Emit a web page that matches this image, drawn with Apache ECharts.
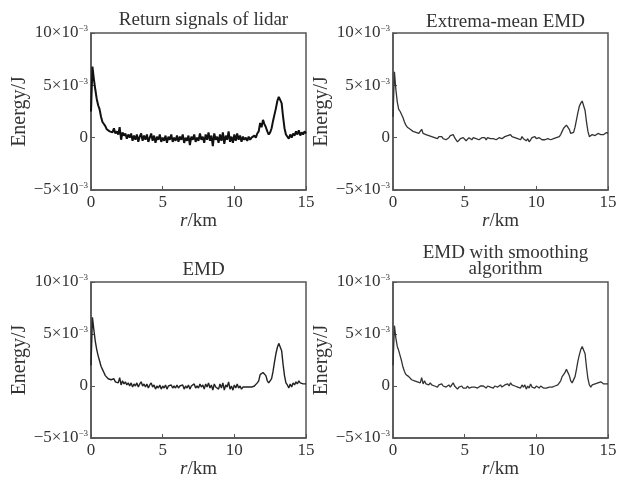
<!DOCTYPE html>
<html>
<head>
<meta charset="utf-8">
<script src="https://cdn.jsdelivr.net/npm/echarts@6/dist/echarts.min.js"></script>
<style>
  html, body { margin: 0; padding: 0; background: #fff; }
  #lidar_emd { width: 623px; height: 481px; }
</style>
</head>
<body>
<div id="lidar_emd"></div>
<script>
// lidar return signal and three EMD denoising results, energy in 10^-3 J, sampled every 0.1 km

var lidarSignal = [
  2.5, 6.8, 5.6, 4.6, 3.7, 3.1, 2.7, 2.0, 1.5, 1.3,
  1.1, 0.8, 0.9, 0.6, 0.7, 0.5, 0.9, 0.4, 0.6, 0.3,
  1.0, -0.2, 0.5, 0.2, 0.4, -0.1, 0.3, 0.0, 0.4, -0.3,
  0.2, -0.2, 0.3, -0.4, 0.1, 0.4, -0.3, 0.2, -0.2, 0.3,
  -0.4, 0.0, 0.4, -0.3, 0.2, -0.5, 0.1, -0.2, 0.3, -0.4,
  0.0, -0.3, 0.2, -0.5, 0.1, -0.2, 0.3, -0.4, 0.0, -0.3,
  0.2, -0.4, 0.1, -0.2, 0.3, -0.5, 0.0, -0.3, 0.2, -0.7,
  0.1, -0.2, 0.3, -0.4, 0.0, -0.3, 0.4, -0.2, 0.1, -0.5,
  0.3, -0.2, 0.5, -0.3, 0.2, -0.8, 0.4, -0.2, 0.1, -0.5,
  0.3, -0.3, 0.5, -0.6, 0.2, -0.2, 0.6, -0.4, 0.1, -0.5,
  0.3, -0.3, 0.4, -0.2, 0.2, -0.4, 0.1, -0.2, 0.0, -0.3,
  0.1, -0.2, 0.0, -0.1, 0.2, 0.0, 0.4, 0.6, 1.4, 1.0,
  1.7, 1.3, 1.0, 0.6, 0.3, 0.5, 0.9, 1.6, 2.2, 2.8,
  3.5, 3.9, 4.0, 3.3, 2.0, 0.9, 0.3, 0.4, -0.1, 0.3,
  0.0, 0.4, 0.2, 0.6, 0.3, 0.7, 0.2, 0.5, 0.3, 0.6,
  0.4
];

var extremaMeanEmd = [
  2.0, 6.3, 4.6, 3.4, 2.7, 2.5, 2.4, 1.9, 1.5, 1.2,
  1.0, 0.9, 0.8, 0.7, 0.6, 0.6, 0.5, 0.5, 0.4, 0.6,
  0.8, 0.4, 0.5, 0.3, 0.4, 0.2, 0.3, 0.1, 0.2, 0.0,
  0.1, -0.1, 0.1, 0.0, 0.1, -0.1, 0.0, -0.2, -0.1, 0.0,
  0.2, 0.1, 0.3, 0.0, -0.2, -0.4, -0.3, -0.1, -0.2, 0.0,
  -0.1, -0.3, -0.2, 0.0, -0.1, -0.2, 0.0, 0.1, -0.1, 0.0,
  -0.2, -0.1, 0.0, -0.1, 0.0, -0.2, 0.0, 0.1, -0.1, 0.0,
  -0.1, 0.0, -0.2, -0.1, 0.0, 0.1, -0.1, 0.0, 0.1, 0.0,
  0.2, 0.1, 0.3, 0.1, 0.2, 0.0, 0.1, -0.1, 0.0, -0.2,
  0.1, -0.1, 0.0, -0.3, -0.1, -0.4, -0.2, 0.0, -0.1, 0.1,
  -0.1, -0.2, 0.0, -0.1, -0.2, -0.1, -0.2, -0.1, -0.1, -0.2,
  -0.2, -0.1, -0.1, -0.1, 0.0, 0.0, 0.1, 0.3, 0.6, 0.9,
  1.0, 1.2, 1.2, 0.8, 0.4, 0.3, 0.5, 1.0, 1.7, 2.4,
  3.0, 3.3, 3.5, 3.4, 2.6, 1.5, 0.6, 0.1, 0.2, 0.3,
  0.2, 0.2, 0.3, 0.4, 0.3, 0.3, 0.4, 0.3, 0.4, 0.5,
  0.4
];

var classicEmd = [
  2.0, 6.6, 5.4, 4.3, 3.5, 2.9, 2.4, 1.9, 1.6, 1.3,
  1.0, 0.9, 0.7, 0.8, 0.6, 0.5, 0.7, 0.4, 0.5, 0.3,
  0.8, 0.1, 0.5, 0.2, 0.4, 0.1, 0.3, 0.0, 0.3, -0.1,
  0.2, 0.0, 0.3, -0.1, 0.2, 0.4, 0.0, 0.2, -0.1, 0.2,
  -0.2, 0.1, 0.3, -0.1, 0.1, -0.3, 0.0, -0.2, 0.1, -0.3,
  0.0, -0.2, 0.1, -0.3, 0.0, -0.1, 0.1, -0.2, 0.0, -0.2,
  0.1, -0.2, 0.0, -0.1, 0.1, -0.3, 0.0, -0.2, 0.1, -0.3,
  0.0, -0.1, 0.2, -0.2, 0.0, -0.2, 0.2, -0.1, 0.1, -0.3,
  0.2, -0.1, 0.3, -0.2, 0.1, -0.4, 0.2, -0.1, 0.0, -0.3,
  0.2, -0.2, 0.3, -0.4, 0.1, -0.1, 0.4, -0.3, 0.0, -0.4,
  0.1, -0.2, 0.2, -0.2, 0.0, -0.3, -0.1, -0.2, -0.1, -0.2,
  -0.1, -0.2, -0.1, -0.1, 0.0, 0.0, 0.3, 0.5, 1.1, 1.0,
  1.3, 1.2, 1.0, 0.5, 0.3, 0.4, 0.7, 1.4, 2.3, 3.1,
  3.7, 4.1, 4.2, 3.4, 2.1, 1.0, 0.3, 0.1, -0.2, 0.2,
  -0.1, 0.3, 0.1, 0.4, 0.2, 0.5, 0.3, 0.4, 0.2, 0.3,
  0.2
];

var smoothedEmd = [
  2.0, 5.8, 4.6, 3.8, 3.4, 2.9, 2.4, 1.8, 1.4, 1.1,
  1.0, 0.9, 0.8, 0.6, 0.5, 0.5, 0.4, 0.4, 0.5, 0.3,
  0.8, 0.2, 0.5, 0.2, 0.3, 0.1, 0.3, 0.1, 0.2, 0.0,
  0.1, -0.1, 0.1, 0.0, 0.2, 0.0, 0.1, -0.1, 0.0, 0.1,
  -0.1, 0.1, 0.3, 0.0, -0.1, -0.3, -0.1, -0.2, 0.0, -0.2,
  -0.1, -0.2, 0.0, -0.2, -0.1, -0.1, 0.0, -0.1, 0.0, -0.2,
  -0.1, 0.0, -0.1, 0.0, -0.1, -0.2, 0.0, 0.1, -0.1, 0.0,
  -0.2, 0.0, 0.1, -0.1, 0.0, 0.1, -0.1, 0.0, 0.1, 0.0,
  0.2, 0.0, 0.3, 0.1, 0.2, 0.0, 0.1, -0.1, 0.0, -0.2,
  0.1, -0.1, 0.1, -0.3, 0.0, -0.2, 0.2, -0.1, 0.0, -0.2,
  0.0, -0.1, -0.2, 0.0, -0.1, -0.2, -0.1, -0.2, -0.1, -0.1,
  -0.2, -0.1, -0.1, 0.0, 0.0, 0.1, 0.2, 0.5, 0.9, 1.1,
  1.3, 1.6, 1.5, 1.0, 0.5, 0.3, 0.4, 0.9, 1.6, 2.4,
  3.0, 3.5, 3.8, 3.9, 3.1, 1.8, 0.7, 0.1, -0.1, 0.1,
  0.0, 0.2, 0.1, 0.3, 0.2, 0.4, 0.3, 0.2, 0.3, 0.2,
  0.2
];

var panelTitles = ['Return signals of lidar', 'Extrema-mean EMD', 'EMD', 'EMD with smoothing\nalgorithm'];
var yTicks = [-5, 0, 5, 10];
var xTicks = [0, 5, 10, 15];

var distanceKm = [];
for (var i = 0; i < lidarSignal.length; i++) {
  distanceKm.push(i / 10);
}

function toPairs(values) {
  return values.map(function (v, i) { return [distanceKm[i], v]; });
}

var dom = document.getElementById('lidar_emd');
var myChart = echarts.init(dom);

var serif = 'Liberation Serif';
var ink = '#333';
var frame = '#555';

var grids = [
  { left: 91, top: 33, width: 215, height: 157 },
  { left: 393, top: 33, width: 215, height: 157 },
  { left: 91, top: 282, width: 215, height: 156 },
  { left: 393, top: 282, width: 215, height: 156 }
];
var titleTops = [7, 9, 257, 240];
var panelData = [lidarSignal, extremaMeanEmd, classicEmd, smoothedEmd];
var lineColors = ['#111', '#333', '#222', '#333'];
var lineWidths = [2, 1.3, 1.4, 1.3];

var option = {
  backgroundColor: '#fff',
  animation: false,
  title: [],
  grid: [],
  xAxis: [],
  yAxis: [],
  series: []
};

grids.forEach(function (g, k) {
  option.grid.push({
    left: g.left, top: g.top, width: g.width, height: g.height,
    show: true, borderColor: frame, borderWidth: 1.5, backgroundColor: 'transparent'
  });
  option.title.push({
    text: panelTitles[k],
    left: g.left + g.width / 2,
    top: titleTops[k],
    textAlign: 'center',
    textStyle: { fontFamily: serif, fontSize: 19, fontWeight: 'normal', color: ink, lineHeight: 16 }
  });
  option.xAxis.push({
    type: 'value',
    gridIndex: k,
    min: xTicks[0],
    max: xTicks[xTicks.length - 1],
    interval: 5,
    name: '{i|r}/km',
    nameLocation: 'middle',
    nameGap: 19,
    nameTextStyle: {
      fontFamily: serif, fontSize: 19, color: ink,
      rich: { i: { fontFamily: serif, fontSize: 19, fontStyle: 'italic', color: ink } }
    },
    axisLine: { onZero: false, lineStyle: { color: frame, width: 1.5 } },
    axisTick: { inside: true, length: 4, lineStyle: { color: frame } },
    axisLabel: { fontFamily: serif, fontSize: 17, color: ink, margin: 4 },
    splitLine: { show: false }
  });
  option.yAxis.push({
    type: 'value',
    gridIndex: k,
    min: yTicks[0],
    max: yTicks[yTicks.length - 1],
    interval: 5,
    name: 'Energy/J',
    nameLocation: 'middle',
    nameGap: 59,
    nameTextStyle: { fontFamily: serif, fontSize: 20, color: ink },
    axisLine: { onZero: false, lineStyle: { color: frame, width: 1.5 } },
    axisTick: { inside: true, length: 4, lineStyle: { color: frame } },
    axisLabel: {
      fontFamily: serif, fontSize: 17, color: ink, margin: 3,
      formatter: function (v) {
        if (v === 0) return '0';
        return (v < 0 ? '\u2212' : '') + Math.abs(v) + '\u00d710{sup|\u22123}';
      },
      rich: { sup: { fontFamily: serif, fontSize: 9, color: ink, verticalAlign: 'top', padding: [0, 0, 8, 0] } }
    },
    splitLine: { show: false }
  });
  option.series.push({
    type: 'line',
    xAxisIndex: k,
    yAxisIndex: k,
    data: toPairs(panelData[k]),
    showSymbol: false,
    lineStyle: { color: lineColors[k], width: lineWidths[k] }
  });
});

if (option && typeof option === 'object') {
  myChart.setOption(option);
}
</script>
</body>
</html>
